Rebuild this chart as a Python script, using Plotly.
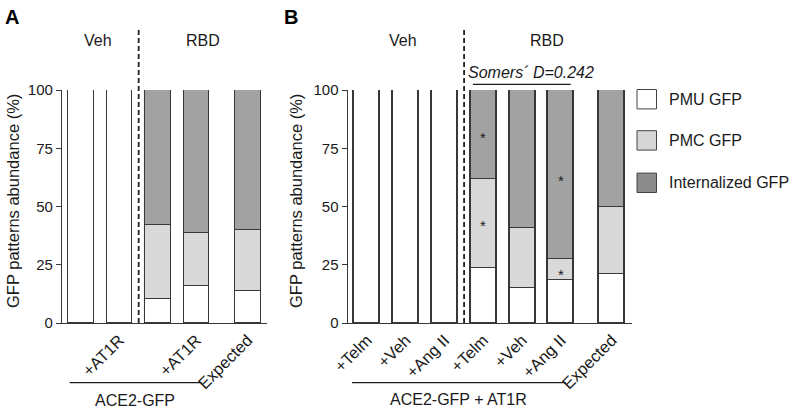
import plotly.graph_objects as go

W, H = 791, 412

# ---------------- data ----------------
series_names = ["PMU GFP", "PMC GFP", "Internalized GFP"]

pos_a = [0, 1, 2, 3, 4.33]
labels_a = ["", "+AT1R", "", "+AT1R", "Expected"]
pmu_a = [100, 100, 10.5, 16.0, 13.6]
pmc_a = [None, None, 31.5, 22.8, 26.4]
int_a = [None, None, 58.0, 61.2, 60.0]

pos_b = [0, 1, 2, 3, 4, 5, 6.31]
labels_b = ["+Telm", "+Veh", "+Ang II", "+Telm", "+Veh", "+Ang II", "Expected"]
pmu_b = [100, 100, 100, 23.5, 14.9, 18.3, 20.9]
pmc_b = [None, None, None, 38.3, 25.7, 9.0, 28.8]
int_b = [None, None, None, 38.2, 59.4, 72.7, 50.3]

# significance marks: (x position, y value)
stars_b = [(3, 80.7), (3, 43.0), (5, 62.5), (5, 22.0)]

yticks = [0, 25, 50, 75, 100]

# ---------------- style ----------------
FONT = "Liberation Sans, Arial, sans-serif"
TXT = "#1a1a1a"
EDGE = "#383838"
fills = ["#ffffff", "#d9d9d9", "#a2a2a2"]
legend_fills = ["#ffffff", "#d6d6d6", "#8c8c8c"]
BW = 0.67


def px(x):
    return x / W


def py(y):
    return 1 - y / H


fig = go.Figure()

for (xa, ya, pos, vals_list) in [
    ("x", "y", pos_a, [pmu_a, pmc_a, int_a]),
    ("x2", "y2", pos_b, [pmu_b, pmc_b, int_b]),
]:
    for name, vals, col in zip(series_names, vals_list, fills):
        fig.add_trace(go.Bar(
            x=pos, y=vals, name=name, xaxis=xa, yaxis=ya, width=BW,
            marker=dict(color=col, line=dict(color=EDGE, width=1.3)),
            showlegend=False, cliponaxis=False,
        ))

ydom = [py(323), py(90)]
axis_common = dict(showline=True, linecolor=EDGE, linewidth=1.3, showgrid=False,
                   zeroline=False, automargin=False)
xfont = dict(family=FONT, size=16.5, color=TXT)
yfont = dict(family=FONT, size=15, color=TXT)

fig.update_layout(
    template="none",
    width=W, height=H, autosize=False,
    margin=dict(l=0, r=0, t=0, b=0, pad=0, autoexpand=False),
    paper_bgcolor="white", plot_bgcolor="white",
    barmode="stack", bargap=0, showlegend=False,
    font=dict(family=FONT, color=TXT),
    xaxis=dict(domain=[px(62), px(267)], range=[-0.49, 4.83], tickvals=pos_a,
               ticktext=labels_a, tickangle=-45, ticks="", anchor="y",
               tickfont=xfont, **axis_common),
    yaxis=dict(domain=ydom, range=[0, 100], tickvals=yticks, ticks="outside",
               ticklen=5, tickcolor=EDGE, tickwidth=1.3, anchor="x",
               tickfont=yfont, **axis_common),
    xaxis2=dict(domain=[px(347.7), px(631.7)], range=[-0.5, 6.82], tickvals=pos_b,
                ticktext=labels_b, tickangle=-45, ticks="", anchor="y2",
                tickfont=xfont, **axis_common),
    yaxis2=dict(domain=ydom, range=[0, 100], tickvals=yticks, ticks="outside",
                ticklen=5, tickcolor=EDGE, tickwidth=1.3, anchor="x2",
                tickfont=yfont, **axis_common),
)

shapes = []
ann = []

# dashed separators
for xr, xv in [("x", 1.5), ("x2", 2.5)]:
    shapes.append(dict(type="line", xref=xr, yref="paper", x0=xv, x1=xv,
                       y0=py(323), y1=py(30),
                       line=dict(color="#222", width=1.8, dash="5px,3px")))

# group labels
for xr, xv, t in [("x", 0.45, "Veh"), ("x", 3.17, "RBD"),
                  ("x2", 0.93, "Veh"), ("x2", 4.64, "RBD")]:
    ann.append(dict(xref=xr, yref="paper", x=xv, y=py(41), text=t, showarrow=False,
                    font=dict(size=16, family=FONT, color=TXT),
                    xanchor="center", yanchor="middle"))

# Somers' D
ann.append(dict(xref="x2", yref="paper", x=4.23, y=py(72),
                text="<i>Somers\u00b4 D=0.242</i>", showarrow=False,
                font=dict(size=16, family=FONT, color=TXT),
                xanchor="center", yanchor="middle"))
shapes.append(dict(type="line", xref="x2", yref="paper", x0=2.73, x1=5.25,
                   y0=py(84.3), y1=py(84.3), line=dict(color=TXT, width=1.2)))

# stars
for xv, yv in stars_b:
    ann.append(dict(xref="x2", yref="y2", x=xv, y=yv, text="*", showarrow=False,
                    font=dict(size=15, family=FONT, color=TXT),
                    xanchor="center", yanchor="middle", yshift=-3))

# bottom group brackets
shapes.append(dict(type="line", xref="x", yref="paper", x0=-0.29, x1=3.13,
                   y0=py(382.7), y1=py(382.7), line=dict(color=TXT, width=1.2)))
ann.append(dict(xref="x", yref="paper", x=1.4, y=py(400), text="ACE2-GFP",
                showarrow=False, font=dict(size=16, family=FONT, color=TXT),
                xanchor="center", yanchor="middle"))
shapes.append(dict(type="line", xref="x2", yref="paper", x0=-0.39, x1=5.12,
                   y0=py(382.7), y1=py(382.7), line=dict(color=TXT, width=1.2)))
ann.append(dict(xref="x2", yref="paper", x=2.35, y=py(399), text="ACE2-GFP + AT1R",
                showarrow=False, font=dict(size=16, family=FONT, color=TXT),
                xanchor="center", yanchor="middle"))

# y titles
for xc in [13, 296]:
    ann.append(dict(xref="paper", yref="paper", x=px(xc), y=py(201),
                    text="GFP patterns abundance (%)", textangle=-90, showarrow=False,
                    font=dict(size=16.5, family=FONT, color=TXT),
                    xanchor="center", yanchor="middle"))

# panel letters
for xc, t in [(12, "A"), (291, "B")]:
    ann.append(dict(xref="paper", yref="paper", x=px(xc), y=py(17), text="<b>%s</b>" % t,
                    showarrow=False, font=dict(size=20, family=FONT, color="#000"),
                    xanchor="center", yanchor="middle"))

# legend (drawn manually)
for i, (name, col) in enumerate(zip(series_names, legend_fills)):
    yc = [99.2, 140.4, 182.8][i]
    shapes.append(dict(type="rect", xref="paper", yref="paper",
                       x0=px(637), x1=px(656.5), y0=py(yc + 9.7), y1=py(yc - 9.7),
                       fillcolor=col, line=dict(color="#444", width=1)))
    ann.append(dict(xref="paper", yref="paper", x=px(666.5), y=py(yc), text=name,
                    showarrow=False, font=dict(size=16, family=FONT, color=TXT),
                    xanchor="left", yanchor="middle"))

fig.update_layout(shapes=shapes, annotations=ann)
fig.write_html("out.html", config={"displayModeBar": False},
               post_script="document.body.style.margin='0';document.body.style.overflow='hidden';")
